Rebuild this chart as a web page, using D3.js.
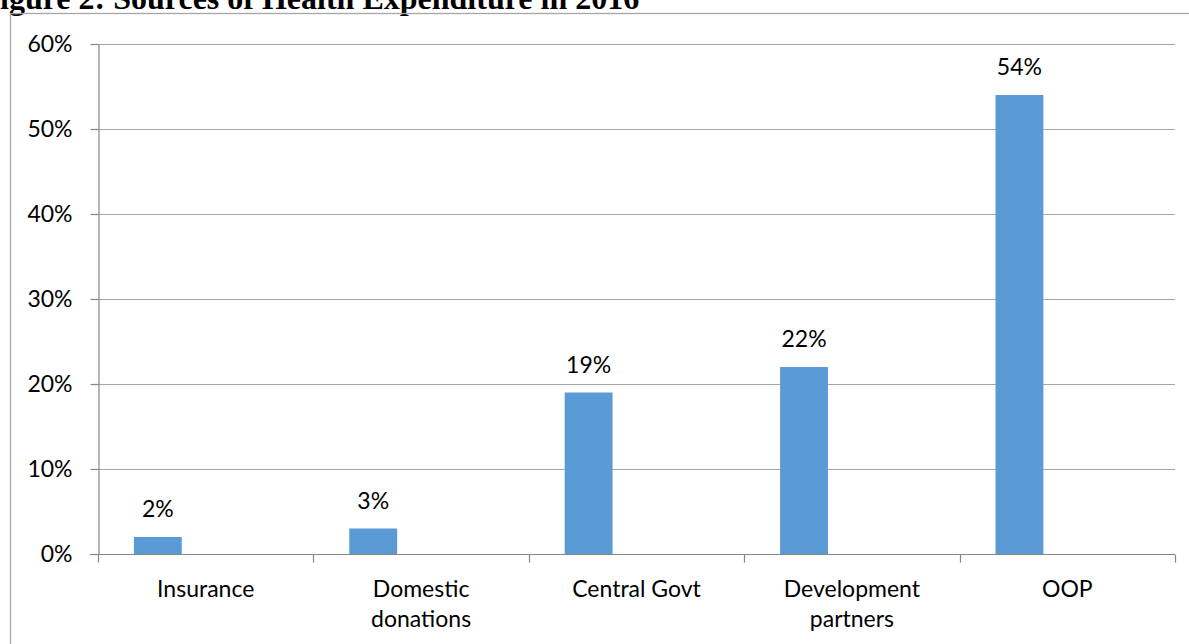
<!DOCTYPE html>
<html>
<head>
<meta charset="utf-8">
<script src="https://cdn.jsdelivr.net/npm/d3@7"></script>
<style>
  html, body { margin: 0; padding: 0; background: #fff; overflow: hidden; }
  svg { display: block; }
</style>
</head>
<body>
<svg id="chart" width="1189" height="644"></svg>
<script>
// Sources of health expenditure, share of total (%)
const categories = ["Insurance", "Domestic donations", "Central Govt", "Development partners", "OOP"];
const shares = [2, 3, 19, 22, 54];
const yTicks = [0, 10, 20, 30, 40, 50, 60];
const title = "Figure 2: Sources of Health Expenditure in 2016";

const W = 1189, H = 644;
const plot = { left: 98, right: 1175, top: 44, bottom: 554 };
const labelFont = "Lato, 'Open Sans', sans-serif";

const svg = d3.select("#chart");

// Title, bold serif, sitting above the chart frame
svg.append("text")
  .attr("x", -19.5)
  .attr("y", 9)
  .attr("font-family", "'Liberation Serif', 'Times New Roman', serif")
  .attr("font-weight", "bold")
  .attr("font-size", 32)
  .attr("fill", "#000")
  .text(title);

// Chart frame
svg.append("rect")
  .attr("x", 10.5)
  .attr("y", 13.5)
  .attr("width", 1200)
  .attr("height", 700)
  .attr("fill", "none")
  .attr("stroke", "#a6a6a6")
  .attr("stroke-width", 1.3);

const x = d3.scaleBand()
  .domain(categories)
  .range([plot.left, plot.right])
  .paddingInner(0)
  .paddingOuter(0);

// Three series slots per category; only the first carries data
const slot = d3.scaleBand()
  .domain([0, 1, 2])
  .range([0, x.bandwidth()])
  .paddingInner(0)
  .paddingOuter(0.75);

const y = d3.scaleLinear()
  .domain([0, 60])
  .range([plot.bottom, plot.top]);

// Horizontal gridlines
svg.append("g")
  .selectAll("line")
  .data(yTicks.filter(t => t > 0))
  .join("line")
  .attr("x1", plot.left)
  .attr("x2", plot.right)
  .attr("y1", d => Math.round(y(d)) + 0.5)
  .attr("y2", d => Math.round(y(d)) + 0.5)
  .attr("stroke", "#a6a6a6")
  .attr("stroke-width", 1.2);

// Bars
svg.append("g")
  .selectAll("rect")
  .data(shares)
  .join("rect")
  .attr("x", (d, i) => x(categories[i]) + slot(0))
  .attr("width", slot.bandwidth())
  .attr("y", d => y(d))
  .attr("height", d => y(0) - y(d))
  .attr("fill", "#5b9bd5");

// Value labels above bars
svg.append("g")
  .selectAll("text")
  .data(shares)
  .join("text")
  .attr("x", (d, i) => x(categories[i]) + slot(0) + slot.bandwidth() / 2)
  .attr("y", d => y(d) - 20)
  .attr("text-anchor", "middle")
  .attr("font-family", labelFont)
  .attr("font-size", 23)
  .attr("fill", "#000")
  .text(d => d + "%");

// Y axis
const yAxis = svg.append("g")
  .attr("transform", `translate(${plot.left + 0.5},0)`)
  .call(d3.axisLeft(y).tickValues(yTicks).tickFormat(d => d + "%").tickSize(8).tickSizeOuter(0).tickPadding(18));
yAxis.select(".domain").attr("stroke", "#868686").attr("stroke-width", 1.2);
yAxis.selectAll(".tick line").attr("stroke", "#868686").attr("stroke-width", 1.2);
yAxis.selectAll(".tick text")
  .attr("font-family", labelFont)
  .attr("font-size", 23)
  .attr("fill", "#000");

// X axis baseline and category separators
const xg = svg.append("g").attr("transform", `translate(0,${Math.round(y(0)) + 0.5})`);
xg.append("line")
  .attr("x1", plot.left - 8)
  .attr("x2", plot.right)
  .attr("stroke", "#868686")
  .attr("stroke-width", 1.2);
const boundaries = categories.map(c => x(c)).concat([plot.right]);
xg.selectAll("line.sep")
  .data(boundaries)
  .join("line")
  .attr("class", "sep")
  .attr("x1", d => Math.round(d) + 0.5)
  .attr("x2", d => Math.round(d) + 0.5)
  .attr("y1", 0)
  .attr("y2", 8)
  .attr("stroke", "#868686")
  .attr("stroke-width", 1.2);

// Category labels, wrapped to fit the band
const maxLabelWidth = 170;
const catLabels = xg.selectAll("text.cat")
  .data(categories)
  .join("text")
  .attr("class", "cat")
  .attr("text-anchor", "middle")
  .attr("font-family", labelFont)
  .attr("font-size", 23)
  .attr("fill", "#000")
  .attr("transform", d => `translate(${x(d) + x.bandwidth() / 2},42)`);

catLabels.each(function(d) {
  const t = d3.select(this);
  const words = d.split(" ");
  let line = [];
  let lineNo = 0;
  let tspan = t.append("tspan").attr("x", 0).attr("y", 0);
  words.forEach(w => {
    line.push(w);
    tspan.text(line.join(" "));
    if (tspan.node().getComputedTextLength() > maxLabelWidth && line.length > 1) {
      line.pop();
      tspan.text(line.join(" "));
      line = [w];
      lineNo += 1;
      tspan = t.append("tspan").attr("x", 0).attr("y", lineNo * 30).text(w);
    }
  });
});
</script>
</body>
</html>
